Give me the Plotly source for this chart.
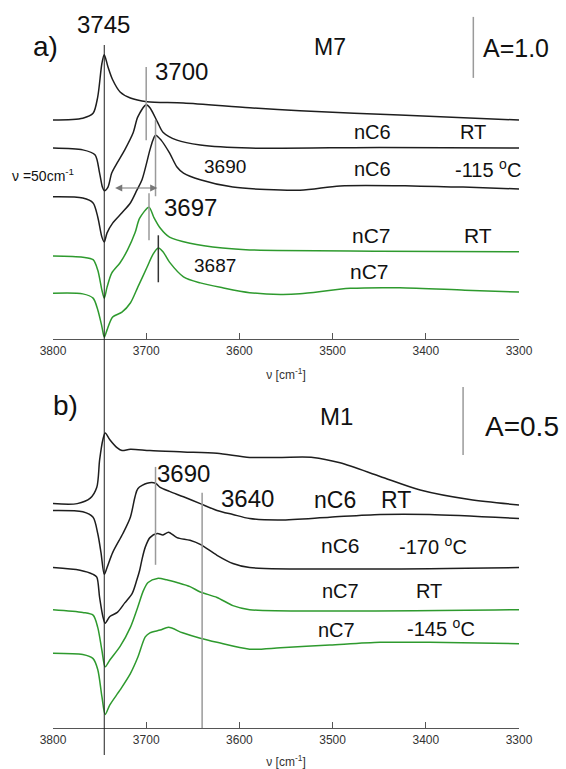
import plotly.graph_objects as go

# ---------------- panel a) M7 : wavenumber [cm-1] / stacked absorbance ----------------
a_bare_wn = [3800, 3768, 3757, 3752, 3747.5, 3745, 3741, 3736, 3728, 3717, 3699, 3660, 3589, 3535, 3428, 3300]
a_bare_ab = [3.59, 3.62, 3.70, 3.97, 4.52, 4.66, 4.46, 4.25, 4.05, 3.95, 3.89, 3.87, 3.79, 3.74, 3.67, 3.59]

a_c6rt_wn = [3800, 3768, 3755, 3750, 3747, 3745, 3741, 3737, 3731, 3723, 3714, 3709, 3700, 3696, 3688, 3682, 3667, 3642, 3589, 3450, 3300]
a_c6rt_ab = [3.13, 3.10, 3.02, 2.72, 2.49, 2.43, 2.49, 2.72, 2.89, 3.10, 3.38, 3.64, 3.84, 3.79, 3.56, 3.39, 3.26, 3.18, 3.13, 3.14, 3.13]

a_c6lt_wn = [3800, 3768, 3757, 3752, 3747.5, 3745, 3742, 3736, 3726, 3717, 3710, 3704.5, 3696, 3693, 3690, 3684, 3675, 3667, 3660, 3642, 3607, 3535, 3492, 3414, 3360, 3300]
a_c6lt_ab = [2.33, 2.31, 2.23, 2.00, 1.67, 1.59, 1.74, 1.90, 2.07, 2.23, 2.44, 2.61, 3.10, 3.25, 3.34, 3.26, 3.05, 2.82, 2.72, 2.61, 2.49, 2.44, 2.51, 2.51, 2.49, 2.46]

a_c7rt_wn = [3800, 3768, 3757, 3752, 3747.5, 3745, 3742, 3737, 3728, 3720, 3712, 3707, 3697, 3692, 3685, 3675, 3653, 3618, 3589, 3450, 3300]
a_c7rt_ab = [1.36, 1.34, 1.30, 1.13, 0.80, 0.67, 0.85, 1.08, 1.25, 1.46, 1.74, 1.98, 2.16, 2.00, 1.82, 1.67, 1.57, 1.49, 1.46, 1.44, 1.43]

a_c7lt_wn = [3800, 3768, 3757, 3752, 3747.5, 3745, 3742, 3736, 3726, 3717, 3709, 3699, 3693, 3687, 3682, 3675, 3660, 3642, 3618, 3589, 3556, 3535, 3481, 3428, 3358, 3300]
a_c7lt_ab = [0.75, 0.74, 0.67, 0.48, 0.20, 0.03, 0.15, 0.36, 0.44, 0.59, 0.85, 1.18, 1.38, 1.49, 1.43, 1.26, 1.02, 0.92, 0.84, 0.76, 0.73, 0.74, 0.83, 0.84, 0.80, 0.77]

# ---------------- panel b) M1 ----------------
b_bare_wn = [3800, 3774, 3760, 3753, 3750, 3746.5, 3744, 3739, 3731, 3726, 3717, 3696, 3660, 3624, 3589, 3556, 3521, 3492, 3449, 3406, 3353, 3300]
b_bare_ab = [1.65, 1.65, 1.69, 1.77, 1.97, 2.12, 2.17, 2.12, 2.06, 2.04, 2.05, 2.04, 2.03, 2.02, 1.99, 1.99, 1.99, 1.95, 1.85, 1.75, 1.68, 1.64]

b_c6rt_wn = [3800, 3768, 3757, 3752, 3748.5, 3745, 3742, 3736, 3725, 3717, 3712, 3709, 3699, 3690, 3685, 3675, 3660, 3642, 3624, 3607, 3589, 3556, 3503, 3449, 3396, 3300]
b_c6rt_ab = [1.60, 1.59, 1.55, 1.43, 1.29, 1.13, 1.18, 1.29, 1.43, 1.55, 1.70, 1.76, 1.80, 1.80, 1.77, 1.74, 1.70, 1.65, 1.60, 1.57, 1.54, 1.53, 1.55, 1.57, 1.57, 1.54]

b_c6lt_wn = [3800, 3771, 3757, 3753, 3750, 3746.5, 3744, 3739, 3731, 3723, 3715, 3710, 3707, 3704.5, 3701, 3696, 3688, 3682, 3676, 3667, 3653, 3642, 3624, 3607, 3589, 3450, 3300]
b_c6lt_ab = [1.18, 1.16, 1.13, 1.11, 0.96, 0.82, 0.77, 0.82, 0.85, 0.92, 0.99, 1.09, 1.16, 1.24, 1.33, 1.40, 1.43, 1.42, 1.44, 1.40, 1.38, 1.35, 1.27, 1.21, 1.18, 1.17, 1.18]

b_c7rt_wn = [3800, 3768, 3757, 3752, 3747.5, 3744, 3739, 3728, 3717, 3709, 3703, 3698, 3688, 3678, 3667, 3653, 3642, 3624, 3607, 3589, 3503, 3300]
b_c7rt_ab = [0.87, 0.85, 0.83, 0.74, 0.57, 0.45, 0.50, 0.60, 0.74, 0.89, 1.01, 1.07, 1.10, 1.09, 1.07, 1.04, 1.00, 0.96, 0.90, 0.87, 0.86, 0.87]

b_c7lt_wn = [3800, 3768, 3757, 3752, 3747.5, 3744, 3739, 3728, 3717, 3709, 3701, 3696, 3685, 3676, 3661, 3642, 3624, 3589, 3556, 3503, 3449, 3396, 3300]
b_c7lt_ab = [0.55, 0.54, 0.51, 0.43, 0.23, 0.10, 0.17, 0.28, 0.40, 0.52, 0.67, 0.70, 0.72, 0.74, 0.70, 0.66, 0.63, 0.58, 0.59, 0.61, 0.63, 0.63, 0.62]

x_ticks = [3800, 3700, 3600, 3500, 3400, 3300]

BLACK = "#1e1e1e"
GREEN = "#2e9a2e"
GRAY = "#9a9a9a"
FONT = "Liberation Sans, Arial, sans-serif"

fig = go.Figure()

spectra = [
    ("x", "y", a_bare_wn, a_bare_ab, BLACK),
    ("x", "y", a_c6rt_wn, a_c6rt_ab, BLACK),
    ("x", "y", a_c6lt_wn, a_c6lt_ab, BLACK),
    ("x", "y", a_c7rt_wn, a_c7rt_ab, GREEN),
    ("x", "y", a_c7lt_wn, a_c7lt_ab, GREEN),
    ("x2", "y2", b_bare_wn, b_bare_ab, BLACK),
    ("x2", "y2", b_c6rt_wn, b_c6rt_ab, BLACK),
    ("x2", "y2", b_c6lt_wn, b_c6lt_ab, BLACK),
    ("x2", "y2", b_c7rt_wn, b_c7rt_ab, GREEN),
    ("x2", "y2", b_c7lt_wn, b_c7lt_ab, GREEN),
]
for xa, ya, wn, ab, col in spectra:
    fig.add_trace(go.Scatter(x=wn, y=ab, xaxis=xa, yaxis=ya, mode="lines",
                             line=dict(color=col, width=1.5, shape="spline", smoothing=0.8),
                             hoverinfo="skip", showlegend=False))

axis_common = dict(range=[3800, 3300], tickvals=x_ticks, ticks="inside", ticklen=6,
                   tickcolor="#555", showline=True, linecolor="#555", linewidth=1.2,
                   showgrid=False, zeroline=False, automargin=False,
                   tickfont=dict(family=FONT, size=12, color="#333"),
                   title=dict(text="\u03bd [cm<sup>-1</sup>]", standoff=14,
                              font=dict(family=FONT, size=12, color="#333")))
yaxis_common = dict(visible=False, showgrid=False, zeroline=False, fixedrange=True, automargin=False)

fig.update_layout(
    width=566, height=769, autosize=False,
    margin=dict(l=0, r=0, t=0, b=0, pad=0),
    paper_bgcolor="white", plot_bgcolor="white",
    xaxis=dict(domain=[53 / 566, 519 / 566], anchor="y", **axis_common),
    yaxis=dict(domain=[1 - 339 / 769, 1.0], range=[0, 5.557], anchor="x", **yaxis_common),
    xaxis2=dict(domain=[53 / 566, 519 / 566], anchor="y2", **axis_common),
    yaxis2=dict(domain=[1 - 728 / 769, 1 - 380 / 769], range=[0, 2.559], anchor="x2", **yaxis_common),
)

# vertical reference at the free OH band, running through both panels
fig.add_shape(type="line", xref="x", yref="paper", x0=3745, x1=3745, y0=1 - 755 / 769, y1=1 - 45 / 769,
              line=dict(color=BLACK, width=1))

# peak markers: (axes, wavenumber, y0, y1, colour)
markers = [
    ("x", "y", 3700, 3.26, 4.46, GRAY),
    ("x", "y", 3690, 2.34, 3.59, GRAY),
    ("x", "y", 3697, 1.62, 2.39, GRAY),
    ("x", "y", 3687, 0.93, 1.70, "#333"),
    ("x", "y", 3349, 4.28, 5.28, GRAY),      # A = 1.0 scale bar
    ("x2", "y2", 3690, 1.20, 1.92, GRAY),
    ("x2", "y2", 3640, 0.0, 1.73, GRAY),
    ("x2", "y2", 3360, 2.007, 2.507, GRAY),  # A = 0.5 scale bar
]
for xa, ya, wn, y0, y1, col in markers:
    fig.add_shape(type="line", xref=xa, yref=ya, x0=wn, x1=wn, y0=y0, y1=y1,
                  line=dict(color=col, width=1.5))

# double-headed arrow for the 50 cm-1 shift
fig.add_annotation(xref="x", yref="y", axref="x", ayref="y", x=3688, y=2.475, ax=3735, ay=2.475,
                   text="", showarrow=True, arrowside="end+start", arrowhead=2, arrowsize=1.2,
                   arrowwidth=1.2, arrowcolor="#777")


def label(text, x, y, size, xref="x", yref="y", xanchor="center"):
    fig.add_annotation(xref=xref, yref=yref, x=x, y=y, text=text, showarrow=False,
                       xanchor=xanchor, yanchor="middle",
                       font=dict(family=FONT, size=size, color="#111"))


# panel a texts
label("a)", 45 / 566, 1 - 47 / 769, 28, "paper", "paper")
label("M7", 330 / 566, 1 - 47 / 769, 23, "paper", "paper")
label("A=1.0", 516 / 566, 1 - 48 / 769, 25, "paper", "paper")
label("\u03bd =50cm<sup>-1</sup>", 10 / 566, 1 - 175 / 769, 14, "paper", "paper", xanchor="left")
label("3745", 3746, 5.15, 24)
label("3700", 3693, 4.38, 24, xanchor="left")
label("3690", 3615, 2.82, 19)
label("3697", 3653, 2.16, 24)
label("3687", 3626, 1.20, 19)
label("nC6", 3457, 3.39, 20)
label("RT", 3349, 3.39, 20)
label("nC6", 3457, 2.79, 20)
label("-115 <sup>o</sup>C", 3333, 2.79, 20)
label("nC7", 3458, 1.70, 21)
label("RT", 3344, 1.70, 21)
label("nC7", 3460, 1.11, 21)

# panel b texts
label("b)", 65 / 566, 1 - 405 / 769, 28, "paper", "paper")
label("M1", 336 / 566, 1 - 416 / 769, 24, "paper", "paper")
label("A=0.5", 522 / 566, 1 - 426 / 769, 28, "paper", "paper")
label("3690", 3660, 1.87, 24, "x2", "y2")
label("3640", 3591, 1.69, 24, "x2", "y2")
label("nC6", 3497, 1.68, 23, "x2", "y2")
label("RT", 3432, 1.68, 23, "x2", "y2")
label("nC6", 3492, 1.34, 21, "x2", "y2")
label("-170 <sup>o</sup>C", 3392, 1.34, 20, "x2", "y2")
label("nC7", 3491, 1.01, 20, "x2", "y2")
label("RT", 3397, 1.01, 20, "x2", "y2")
label("nC7", 3496, 0.72, 20, "x2", "y2")
label("-145 <sup>o</sup>C", 3384, 0.74, 20, "x2", "y2")

fig.write_html("out.html")
